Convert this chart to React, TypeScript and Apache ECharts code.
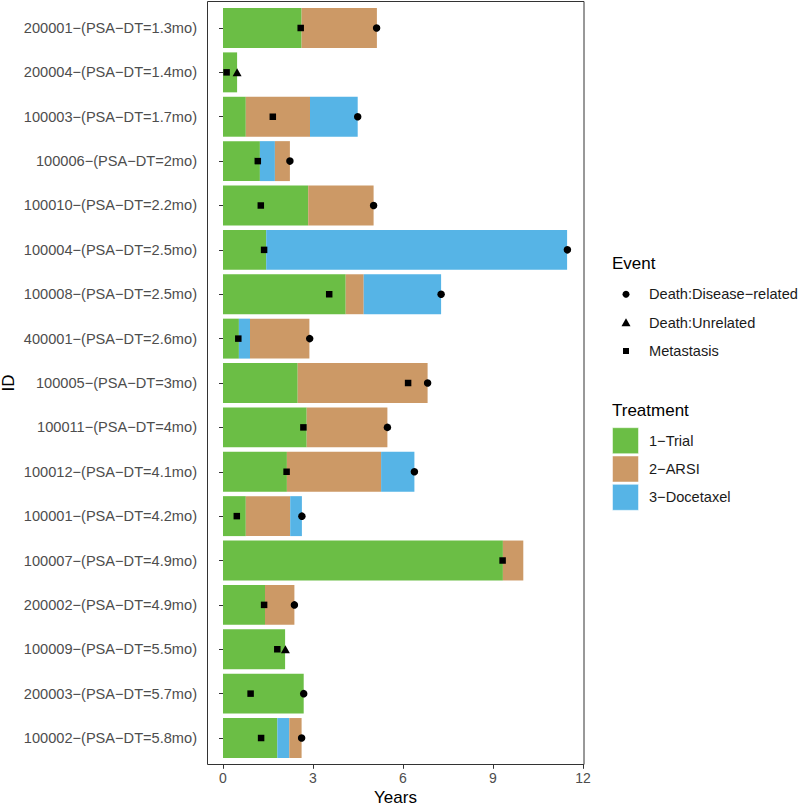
import React, { useEffect, useRef } from "react";
import * as echarts from "echarts";

const ids = [
  "200001−(PSA−DT=1.3mo)",
  "200004−(PSA−DT=1.4mo)",
  "100003−(PSA−DT=1.7mo)",
  "100006−(PSA−DT=2mo)",
  "100010−(PSA−DT=2.2mo)",
  "100004−(PSA−DT=2.5mo)",
  "100008−(PSA−DT=2.5mo)",
  "400001−(PSA−DT=2.6mo)",
  "100005−(PSA−DT=3mo)",
  "100011−(PSA−DT=4mo)",
  "100012−(PSA−DT=4.1mo)",
  "100001−(PSA−DT=4.2mo)",
  "100007−(PSA−DT=4.9mo)",
  "200002−(PSA−DT=4.9mo)",
  "100009−(PSA−DT=5.5mo)",
  "200003−(PSA−DT=5.7mo)",
  "100002−(PSA−DT=5.8mo)",
];

const treatments = ["1−Trial", "2−ARSI", "3−Docetaxel"];
const treatmentColors = ["#6BBE45", "#CC9966", "#56B4E6"];

// Segment 1 is always 1−Trial; end times (years)
const seg1End = [2.62, 0.47, 0.76, 1.23, 2.84, 1.44, 4.09, 0.53, 2.49, 2.79, 2.13, 0.76, 9.33, 1.4, 2.07, 2.69, 1.81];
const seg2Treatment = ["2−ARSI", null, "2−ARSI", "3−Docetaxel", "2−ARSI", "3−Docetaxel", "2−ARSI", "3−Docetaxel", "2−ARSI", "2−ARSI", "2−ARSI", "2−ARSI", "2−ARSI", "2−ARSI", null, null, "3−Docetaxel"];
const seg2End = [5.13, null, 2.9, 1.73, 5.02, 11.47, 4.69, 0.9, 6.82, 5.48, 5.27, 2.24, 10.01, 2.38, null, null, 2.21];
const seg3Treatment = [null, null, "3−Docetaxel", "2−ARSI", null, null, "3−Docetaxel", "2−ARSI", null, null, "3−Docetaxel", "3−Docetaxel", null, null, null, null, "2−ARSI"];
const seg3End = [null, null, 4.49, 2.23, null, null, 7.27, 2.88, null, null, 6.38, 2.63, null, null, null, null, 2.62];

const eventNames = ["Death:Disease−related", "Death:Unrelated", "Metastasis"];
const deathDisease = [5.12, null, 4.49, 2.23, 5.02, 11.48, 7.27, 2.89, 6.82, 5.48, 6.38, 2.63, null, 2.38, null, 2.69, 2.62];
const deathUnrelated = [null, 0.47, null, null, null, null, null, null, null, null, null, null, null, null, 2.08, null, null];
const metastasis = [2.59, 0.12, 1.66, 1.16, 1.26, 1.37, 3.54, 0.51, 6.17, 2.68, 2.12, 0.46, 9.32, 1.37, 1.81, 0.92, 1.27];

const xTicks = { min: 0, max: 12, interval: 3 };

const FONT = "Liberation Sans, Arial, Helvetica, sans-serif";

function colorOf(t: string | null) {
  const i = treatments.indexOf(t as string);
  return i >= 0 ? treatmentColors[i] : "transparent";
}

function pts(arr: (number | null)[]) {
  const out: [number, number][] = [];
  arr.forEach((v, i) => {
    if (v !== null && v !== undefined) out.push([v, i]);
  });
  return out;
}

export default function App() {
  const ref = useRef<HTMLDivElement>(null);
  useEffect(() => {
    if (!ref.current) return;
    const chart = echarts.init(ref.current, null, { renderer: "svg" });

    const s1 = seg1End.map((v) => ({ value: v, itemStyle: { color: treatmentColors[0] } }));
    const s2 = seg2End.map((v, i) =>
      v === null ? { value: null as any } : { value: +(v - seg1End[i]).toFixed(4), itemStyle: { color: colorOf(seg2Treatment[i]) } }
    );
    const s3 = seg3End.map((v, i) =>
      v === null ? { value: null as any } : { value: +(v - (seg2End[i] as number)).toFixed(4), itemStyle: { color: colorOf(seg3Treatment[i]) } }
    );

    const legendTextStyle = { fontSize: 14.6, fill: "#1a1a1a", fontFamily: FONT, verticalAlign: "middle" };
    const ev = [294.3, 322.7, 351];
    const sw = [427.7, 456, 484.3];

    const option: any = {
      animation: false,
      backgroundColor: "#ffffff",
      grid: { left: 223, right: 217, top: 5.8, bottom: 45.8, containLabel: false },
      xAxis: {
        type: "value",
        min: xTicks.min,
        max: xTicks.max,
        interval: xTicks.interval,
        offset: 4.6,
        axisLine: { show: false },
        axisTick: { show: true, length: 4, lineStyle: { color: "#333333", width: 1 } },
        splitLine: { show: false },
        axisLabel: { color: "#4d4d4d", fontSize: 14, fontFamily: FONT, margin: 6 },
      },
      yAxis: {
        type: "category",
        data: ids,
        inverse: true,
        offset: 16,
        axisLine: { show: false },
        axisTick: { show: true, length: 4, alignWithLabel: true, lineStyle: { color: "#333333", width: 1 } },
        splitLine: { show: false },
        axisLabel: { color: "#4d4d4d", fontSize: 14.6, fontFamily: FONT, margin: 10 },
      },
      series: [
        { type: "bar", name: "seg1", stack: "t", data: s1, barWidth: "90%", z: 2 },
        { type: "bar", name: "seg2", stack: "t", data: s2, barWidth: "90%", z: 2 },
        { type: "bar", name: "seg3", stack: "t", data: s3, barWidth: "90%", z: 2 },
        {
          type: "scatter", name: eventNames[2], data: pts(metastasis), symbol: "rect", symbolSize: 6.5,
          itemStyle: { color: "#000000", opacity: 1 }, z: 5, clip: false,
        },
        {
          type: "scatter", name: eventNames[0], data: pts(deathDisease), symbol: "circle", symbolSize: 7.5,
          itemStyle: { color: "#000000", opacity: 1 }, z: 5, clip: false,
        },
        {
          type: "scatter", name: eventNames[1], data: pts(deathUnrelated), symbol: "triangle", symbolSize: [9, 8],
          itemStyle: { color: "#000000", opacity: 1 }, z: 5, clip: false,
        },
      ],
      graphic: [
        {
          type: "rect", z: 10, silent: true,
          shape: { x: 207.5, y: 1.5, width: 376.5, height: 763 },
          style: { fill: "none", stroke: "#333333", lineWidth: 1 },
        },
        {
          type: "text", x: 395.5, y: 797,
          style: { text: "Years", fontSize: 17, fill: "#000000", fontFamily: FONT, align: "center", verticalAlign: "middle" },
        },
        {
          type: "text", x: 8, y: 383, rotation: Math.PI / 2,
          style: { text: "ID", fontSize: 17, fill: "#000000", fontFamily: FONT, align: "center", verticalAlign: "middle" },
        },
        {
          type: "text", x: 612, y: 263,
          style: { text: "Event", fontSize: 17, fill: "#000000", fontFamily: FONT, verticalAlign: "middle" },
        },
        { type: "circle", shape: { cx: 626, cy: ev[0], r: 3.5 }, style: { fill: "#000000" } },
        { type: "polygon", shape: { points: [[626, ev[1] - 4.5], [630.5, ev[1] + 3.5], [621.5, ev[1] + 3.5]] }, style: { fill: "#000000" } },
        { type: "rect", shape: { x: 623, y: ev[2] - 3, width: 6, height: 6 }, style: { fill: "#000000" } },
        ...eventNames.map((n, i) => ({ type: "text", x: 649, y: ev[i], style: { ...legendTextStyle, text: n } })),
        {
          type: "text", x: 612, y: 410,
          style: { text: "Treatment", fontSize: 17, fill: "#000000", fontFamily: FONT, verticalAlign: "middle" },
        },
        ...treatments.map((t, i) => ({
          type: "rect", shape: { x: 612.5, y: sw[i], width: 26, height: 26 }, style: { fill: treatmentColors[i], stroke: "#ffffff", lineWidth: 0.5 },
        })),
        ...treatments.map((t, i) => ({ type: "text", x: 649, y: sw[i] + 13, style: { ...legendTextStyle, text: t } })),
      ],
    };
    chart.setOption(option);
    return () => chart.dispose();
  }, []);
  return <div ref={ref} style={{ position: "absolute", left: 0, top: 0, width: 800, height: 806 }} />;
}
